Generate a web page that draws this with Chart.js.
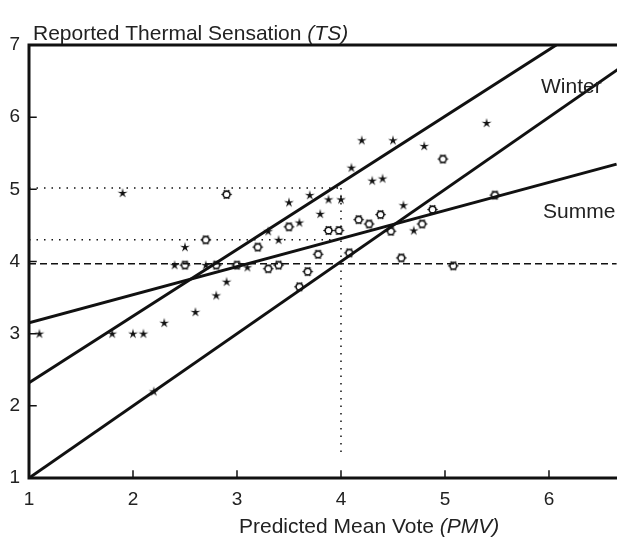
<!DOCTYPE html>
<html>
<head>
<meta charset="utf-8">
<script src="https://cdn.jsdelivr.net/npm/chart.js@4"></script>
<style>
    html, body { margin: 0; padding: 0; background: #fff; overflow: hidden; }
    /* a few px wider than the window: Chart.js keeps a small right gap for point overflow */
    #wrap { width: 624px; height: 546px; }
</style>
</head>
<body>
<div id="wrap"><canvas id="chart"></canvas></div>
<script>
// ===== DATA =====

// Winter votes (stars)
const winterX = [1.1, 1.8, 2.0, 2.1, 2.3, 2.6, 2.2, 1.9, 2.5, 2.4, 2.7, 2.9, 2.8, 3.1, 3.3, 3.4,
                 4.2, 4.5, 4.8, 4.1, 4.3, 4.4, 3.5, 3.7, 3.88, 4.0, 3.8, 3.6, 4.6, 4.7, 5.4];
const winterY = [3.0, 3.0, 3.0, 3.0, 3.15, 3.3, 2.2, 4.95, 4.2, 3.95, 3.95, 3.72, 3.53, 3.92, 4.42, 4.3,
                 5.68, 5.68, 5.6, 5.3, 5.12, 5.15, 4.82, 4.92, 4.86, 4.86, 4.66, 4.54, 4.78, 4.43, 5.92];

// Summer votes (open circles)
const summerX = [2.9, 2.7, 2.5, 2.8, 3.0, 3.2, 3.3, 3.4, 3.5, 3.88, 3.98, 3.78, 3.6, 3.68,
                 4.08, 4.17, 4.27, 4.38, 4.48, 4.78, 4.88, 4.98, 5.48, 4.58, 5.08];
const summerY = [4.93, 4.3, 3.95, 3.95, 3.95, 4.2, 3.9, 3.95, 4.48, 4.43, 4.43, 4.1, 3.65, 3.86,
                 4.12, 4.58, 4.52, 4.65, 4.42, 4.52, 4.72, 5.42, 4.92, 4.05, 3.94];

// Fitted lines (end points)
const winterFitX = [1, 6.07];
const winterFitY = [2.32, 7];
const summerFitX = [1, 6.65];
const summerFitY = [3.15, 5.35];
const pmvLineX = [1, 7];
const pmvLineY = [1, 7];

// Reference lines
const dashedX = [1, 6.65];
const dashedY = [3.97, 3.97];
const dotHigh = { x: [1, 4], y: [5.02, 5.02] };
const dotLow = { x: [1, 4], y: [4.3, 4.3] };
const dotVert = { x: [4, 4], y: [5.02, 1.3] };

// Axis ticks
const xTicks = [1, 2, 3, 4, 5, 6];
const yTicks = [1, 2, 3, 4, 5, 6, 7];

const pts = (xs, ys) => xs.map((x, i) => ({ x, y: ys[i] }));

// ===== MARKERS =====
function makeStar() {
    const c = document.createElement('canvas');
    c.width = c.height = 12;
    const g = c.getContext('2d');
    g.translate(6, 6.3);
    g.beginPath();
    for (let i = 0; i < 10; i++) {
        const r = i % 2 ? 1.7 : 5.2;
        const a = -Math.PI / 2 + i * Math.PI / 5;
        g.lineTo(r * Math.cos(a), r * Math.sin(a));
    }
    g.closePath();
    g.fillStyle = '#111';
    g.fill();
    return c;
}

function makeGear() {
    const c = document.createElement('canvas');
    c.width = c.height = 13;
    const g = c.getContext('2d');
    g.translate(6.5, 6.5);
    g.strokeStyle = '#111';
    g.lineWidth = 1.6;
    g.beginPath();
    g.arc(0, 0, 3.4, 0, Math.PI * 2);
    g.stroke();
    g.lineWidth = 1.2;
    for (let i = 0; i < 6; i++) {
        const a = i * Math.PI / 3;
        g.beginPath();
        g.moveTo(3.4 * Math.cos(a), 3.4 * Math.sin(a));
        g.lineTo(5.2 * Math.cos(a), 5.2 * Math.sin(a));
        g.stroke();
    }
    return c;
}

const lineSet = (data, opts) => Object.assign({
    type: 'line', data, showLine: true, pointRadius: 0, borderColor: '#111',
    borderWidth: 3, fill: false, tension: 0
}, opts);

const FONT = '"Liberation Sans", Arial, sans-serif';

// ===== AXES, TICKS AND TEXT =====
const decor = {
    id: 'decor',
    afterDraw(chart) {
        const { ctx, chartArea: a, scales: { x, y } } = chart;
        ctx.save();
        ctx.strokeStyle = '#111';
        ctx.lineCap = 'square';

        // frame: left, bottom, top
        ctx.lineWidth = 3;
        ctx.beginPath();
        ctx.moveTo(a.left, a.top);
        ctx.lineTo(a.left, a.bottom);
        ctx.lineTo(a.right, a.bottom);
        ctx.moveTo(a.left, a.top);
        ctx.lineTo(a.right, a.top);
        ctx.stroke();

        // inward tick marks
        ctx.lineWidth = 1.5;
        ctx.beginPath();
        yTicks.slice(1, -1).forEach(v => {
            const py = y.getPixelForValue(v);
            ctx.moveTo(a.left, py);
            ctx.lineTo(a.left + 7, py);
        });
        xTicks.slice(1).forEach(v => {
            const px = x.getPixelForValue(v);
            ctx.moveTo(px, a.bottom);
            ctx.lineTo(px, a.bottom - 7);
        });
        ctx.stroke();

        // titles with italic symbols
        ctx.fillStyle = '#222';
        ctx.textBaseline = 'alphabetic';
        const mixed = (parts, left, base) => {
            let cx = left;
            parts.forEach(([t, it]) => {
                ctx.font = (it ? 'italic ' : '') + '21px ' + FONT;
                ctx.fillText(t, cx, base);
                cx += ctx.measureText(t).width;
            });
        };
        mixed([['Reported Thermal Sensation ', false], ['(TS)', true]], 33, 40);
        mixed([['Predicted Mean Vote ', false], ['(PMV)', true]], 239, 533);

        ctx.font = '21px ' + FONT;
        ctx.fillText('Winter', 541, 93);
        ctx.fillText('Summe', 543, 218);
        ctx.restore();
    }
};

new Chart(document.getElementById('chart'), {
    type: 'scatter',
    data: {
        datasets: [
            lineSet(pts(dashedX, dashedY), { borderWidth: 1.5, borderDash: [7, 4] }),
            lineSet(pts(dotHigh.x, dotHigh.y), { borderWidth: 1.5, borderDash: [1.5, 6] }),
            lineSet(pts(dotLow.x, dotLow.y), { borderWidth: 1.5, borderDash: [1.5, 6] }),
            lineSet(pts(dotVert.x, dotVert.y), { borderWidth: 1.5, borderDash: [1.5, 6] }),
            lineSet(pts(winterFitX, winterFitY)),
            lineSet(pts(summerFitX, summerFitY)),
            lineSet(pts(pmvLineX, pmvLineY)),
            { label: 'Winter', data: pts(winterX, winterY), pointStyle: makeStar(), pointRadius: 6 },
            { label: 'Summer', data: pts(summerX, summerY), pointStyle: makeGear(), pointRadius: 6 }
        ]
    },
    options: {
        responsive: true,
        maintainAspectRatio: false,
        animation: false,
        layout: { padding: { top: 45, right: 0, left: 0, bottom: 0 } },
        plugins: { legend: { display: false }, tooltip: { enabled: false } },
        scales: {
            x: {
                type: 'linear', min: 1, max: 6.654,
                grid: { display: false, drawTicks: false }, border: { display: false },
                afterBuildTicks: s => { s.ticks = xTicks.map(v => ({ value: v })); },
                afterFit: s => { s.height = 68; },
                ticks: { padding: 10, color: '#222', font: { family: FONT, size: 19 } }
            },
            y: {
                type: 'linear', min: 1, max: 7,
                grid: { display: false, drawTicks: false }, border: { display: false },
                afterBuildTicks: s => { s.ticks = yTicks.map(v => ({ value: v })); },
                afterFit: s => { s.width = 29; },
                ticks: { padding: 9, color: '#222', font: { family: FONT, size: 19 } }
            }
        }
    },
    plugins: [decor]
});
</script>
</body>
</html>
